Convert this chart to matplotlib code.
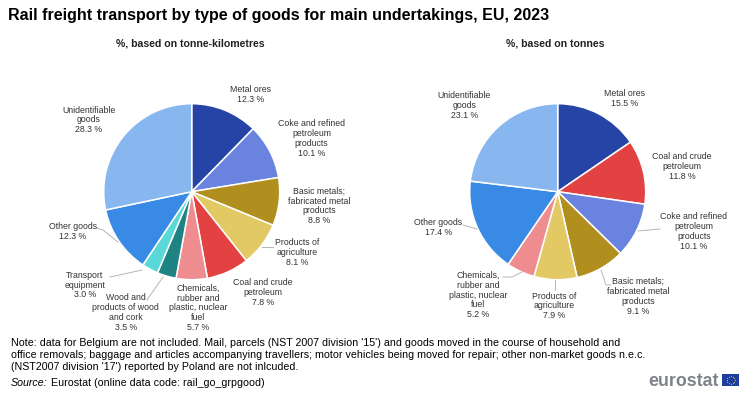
import matplotlib
matplotlib.use('Agg')
import matplotlib.pyplot as plt
from matplotlib.patches import Rectangle
import numpy as np

plt.rcParams['font.family'] = ['Liberation Sans', 'DejaVu Sans']

W, H = 750, 393

# colours by type of goods
COLORS = {
    'Metal ores': '#2644a6',
    'Coke and refined\npetroleum\nproducts': '#6a83de',
    'Basic metals;\nfabricated metal\nproducts': '#b08f1e',
    'Products of\nagriculture': '#e2c964',
    'Coal and crude\npetroleum': '#e24242',
    'Chemicals,\nrubber and\nplastic, nuclear\nfuel': '#ee8c8f',
    'Wood and\nproducts of wood\nand cork': '#1f8383',
    'Transport\nequipment': '#5ad8d8',
    'Other goods': '#398ae4',
    'Unidentifiable\ngoods': '#87b7ee',
}

tkm_labels = ['Metal ores', 'Coke and refined\npetroleum\nproducts',
              'Basic metals;\nfabricated metal\nproducts', 'Products of\nagriculture',
              'Coal and crude\npetroleum', 'Chemicals,\nrubber and\nplastic, nuclear\nfuel',
              'Wood and\nproducts of wood\nand cork', 'Transport\nequipment',
              'Other goods', 'Unidentifiable\ngoods']
tkm_values = [12.3, 10.1, 8.8, 8.1, 7.8, 5.7, 3.5, 3.0, 12.3, 28.3]

tonnes_labels = ['Metal ores', 'Coal and crude\npetroleum',
                 'Coke and refined\npetroleum\nproducts',
                 'Basic metals;\nfabricated metal\nproducts', 'Products of\nagriculture',
                 'Chemicals,\nrubber and\nplastic, nuclear\nfuel', 'Other goods',
                 'Unidentifiable\ngoods']
tonnes_values = [15.5, 11.8, 10.1, 9.1, 7.9, 5.2, 17.4, 23.1]

# label centres in pixels
tkm_pos = [(250.7, 94.5), (311.7, 138.7), (319.3, 206), (296.7, 252.7), (262.7, 292.7),
           (198, 308), (125.7, 312.7), (84.7, 285), (72.7, 231.7), (88.7, 120)]
tonnes_pos = [(625, 98.3), (682, 166.7), (694, 231.7), (638.3, 296.7), (554.3, 306),
              (478.3, 295), (438.3, 227.7), (464.3, 105.7)]

# leader lines in pixels
tkm_leaders = [[(262, 246.7), (273, 246.7)],
               [(97, 228), (103, 230), (118, 242)],
               [(110, 277), (142, 270)],
               [(147, 300), (163, 277)]]
tonnes_leaders = [[(638, 231), (660, 229)],
                  [(611, 285), (606, 285), (601, 270)],
                  [(555, 290), (555, 280)],
                  [(503, 277), (512, 277), (522, 272)],
                  [(463, 225), (477, 229)]]

note = ("Note: data for Belgium are not included. Mail, parcels (NST 2007 division '15') and goods moved in the course of household and\n"
        "office removals; baggage and articles accompanying travellers; motor vehicles being moved for repair; other non-market goods n.e.c.\n"
        "(NST2007 division '17') reported by Poland are not inlcuded.")

fig = plt.figure(figsize=(W / 100, H / 100), dpi=100)


def px(x, y):
    return x / W, 1 - y / H


def draw_pie(cx, cy, r, labels, values, positions, leaders):
    ax = fig.add_axes([(cx - r) / W, 1 - (cy + r) / H, 2 * r / W, 2 * r / H])
    ax.pie(values, colors=[COLORS[l] for l in labels], startangle=90, counterclock=False,
           radius=1, wedgeprops={'edgecolor': 'white', 'linewidth': 1.1})
    ax.set_xlim(-1, 1)
    ax.set_ylim(-1, 1)
    for lab, val, (x, y) in zip(labels, values, positions):
        fig.text(*px(x, y), f'{lab}\n{val} %', ha='center', va='center', fontsize=6.35,
                 color='#333333', linespacing=1.14)
    for pts in leaders:
        xs, ys = zip(*[px(*p) for p in pts])
        fig.add_artist(plt.Line2D(xs, ys, color='#b5b5b5', lw=0.7))


draw_pie(191.7, 191.7, 88, tkm_labels, tkm_values, tkm_pos, tkm_leaders)
draw_pie(557.7, 191.7, 88, tonnes_labels, tonnes_values, tonnes_pos, tonnes_leaders)

fig.text(*px(7.5, 15.5), 'Rail freight transport by type of goods for main undertakings, EU, 2023',
         fontsize=11.5, fontweight='bold', va='center', color='black')
fig.text(*px(190.5, 44), '%, based on tonne-kilometres', fontsize=7.6, fontweight='bold',
         ha='center', va='center', color='#222222')
fig.text(*px(555, 44), '%, based on tonnes', fontsize=7.6, fontweight='bold',
         ha='center', va='center', color='#222222')

fig.text(*px(11, 355), note, fontsize=7.7, va='center', color='black', linespacing=1.29)
fig.text(*px(11, 382.7), 'Source:', fontsize=7.7, style='italic', va='center')
fig.text(*px(51, 382.7), 'Eurostat (online data code: rail_go_grpgood)', fontsize=7.7, va='center')

# eurostat logo
fig.text(*px(648.5, 381), 'eurostat', fontsize=12.8, fontweight='bold', color='#7f8289', va='center')
fig.add_artist(Rectangle(px(722, 386), 17 / W, 12 / H, transform=fig.transFigure,
                         facecolor='#1f3f9e', edgecolor='none'))
ang = np.arange(12) * np.pi / 6
star_x = (730.5 + 4 * np.cos(ang)) / W
star_y = 1 - (380 + 4 * np.sin(ang)) / H
fig.add_artist(plt.Line2D(star_x, star_y, ls='none', marker='o', ms=0.8, color='#d8c531',
                          mew=0))

fig.savefig('out.png', dpi=100)
